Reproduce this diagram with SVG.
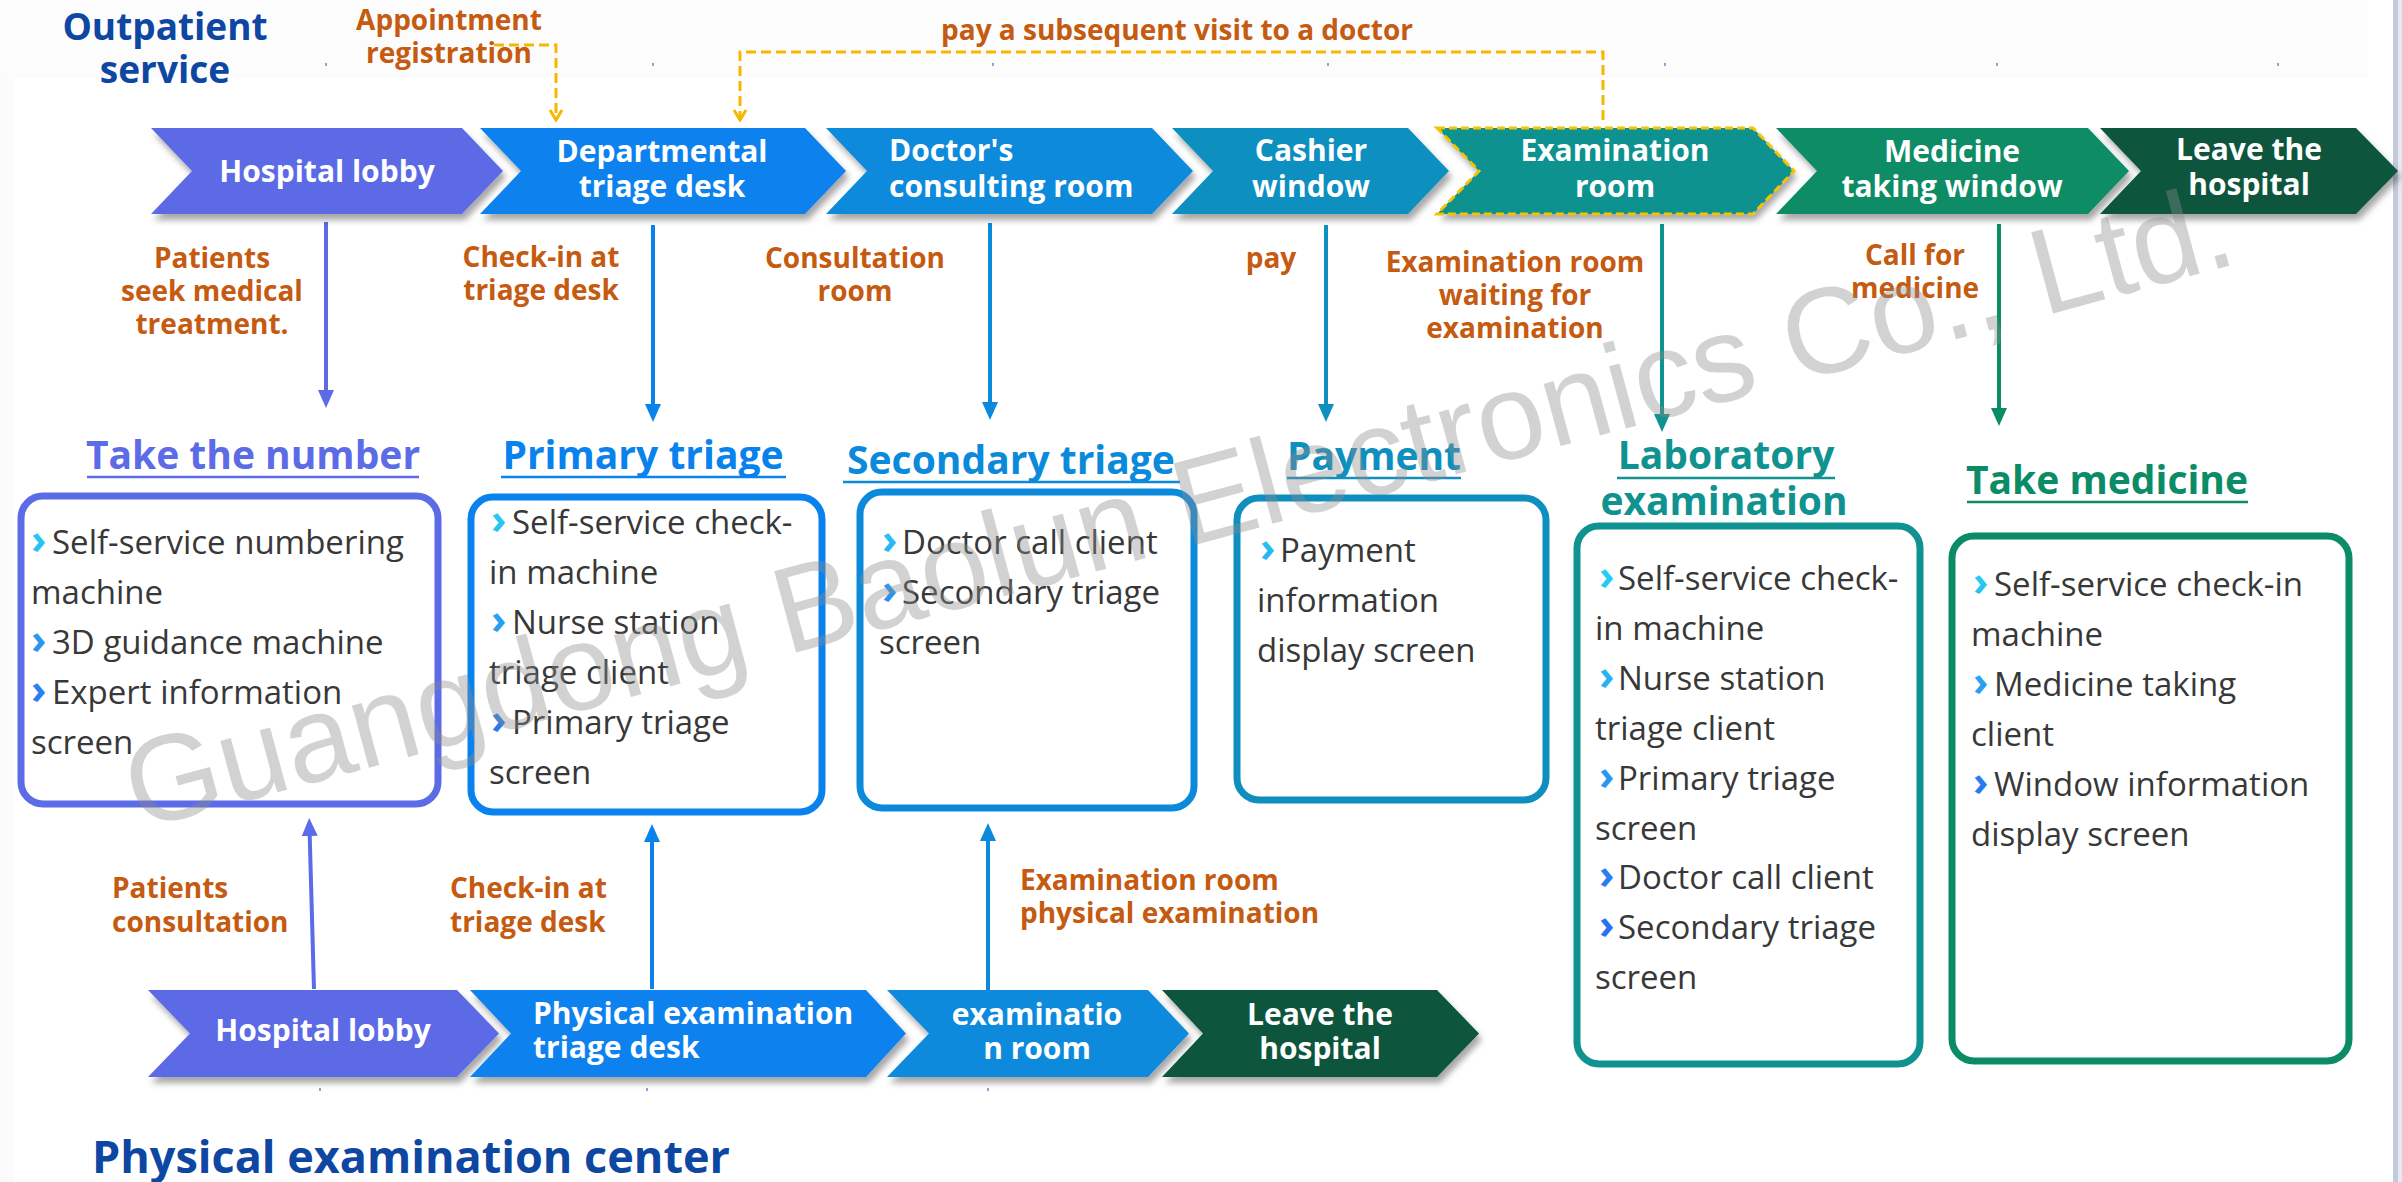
<svg xmlns="http://www.w3.org/2000/svg" width="2402" height="1182" viewBox="0 0 2402 1182">
<defs>
<style>
text{font-family:"Open Sans","Noto Sans","Liberation Sans",sans-serif}
.ct{font-weight:700;font-size:30px;fill:#fff;text-anchor:middle}
.cl{font-weight:700;font-size:30px;fill:#fff}
.lb{font-weight:700;font-size:28px;fill:#C55A11;text-anchor:middle}
.ls{font-weight:700;font-size:28px;fill:#C55A11}
.hd{font-weight:700;font-size:39px;text-anchor:middle}
.bx{font-size:33px;fill:#383838}
.bl{font-size:42px;font-weight:700;fill:url(#bulg)}
.ti{font-weight:700;fill:#0D47A1}
.box{fill:none;stroke-width:7}
.ul{stroke-width:2.5}
.arr{fill:none;stroke-width:4}
.dash{fill:none;stroke:#F5B800;stroke-width:3;stroke-dasharray:10 5}
.chev{filter:url(#sh)}
.dot{fill:#7FA8D8}
.wm{font-family:"Liberation Sans",Arial,sans-serif;font-size:122px;fill:#8C8C8C;opacity:0.38}
</style>
<linearGradient id="bulg" x1="0" y1="0" x2="0" y2="1">
<stop offset="0" stop-color="#27D3F2"/>
<stop offset="1" stop-color="#2B5FF0"/>
</linearGradient>
<filter id="sh" x="-5%" y="-20%" width="115%" height="150%">
<feDropShadow dx="3" dy="6" stdDeviation="3" flood-color="#000" flood-opacity="0.35"/>
</filter>
<marker id="ah1" viewBox="0 0 18 16" refX="4" refY="8" markerWidth="18" markerHeight="16" markerUnits="userSpaceOnUse" orient="auto"><path d="M0,0 L18,8 L0,16 Z" fill="#5C6BE6"/></marker>
<marker id="ah2" viewBox="0 0 18 16" refX="4" refY="8" markerWidth="18" markerHeight="16" markerUnits="userSpaceOnUse" orient="auto"><path d="M0,0 L18,8 L0,16 Z" fill="#0A82EE"/></marker>
<marker id="ah3" viewBox="0 0 18 16" refX="4" refY="8" markerWidth="18" markerHeight="16" markerUnits="userSpaceOnUse" orient="auto"><path d="M0,0 L18,8 L0,16 Z" fill="#0B8ADC"/></marker>
<marker id="ah4" viewBox="0 0 18 16" refX="4" refY="8" markerWidth="18" markerHeight="16" markerUnits="userSpaceOnUse" orient="auto"><path d="M0,0 L18,8 L0,16 Z" fill="#0E8FC0"/></marker>
<marker id="ah5" viewBox="0 0 18 16" refX="4" refY="8" markerWidth="18" markerHeight="16" markerUnits="userSpaceOnUse" orient="auto"><path d="M0,0 L18,8 L0,16 Z" fill="#0F9290"/></marker>
<marker id="ah6" viewBox="0 0 18 16" refX="4" refY="8" markerWidth="18" markerHeight="16" markerUnits="userSpaceOnUse" orient="auto"><path d="M0,0 L18,8 L0,16 Z" fill="#0B8C66"/></marker>
<marker id="ahy" viewBox="-2 -2 14 16" refX="10" refY="6" markerWidth="14" markerHeight="16" markerUnits="userSpaceOnUse" orient="auto"><path d="M0,0 L10,6 L0,12" fill="none" stroke="#F5B800" stroke-width="3"/></marker>
</defs>

<rect x="0" y="0" width="2402" height="1182" fill="#fff"/>
<rect x="0" y="0" width="2368" height="78" fill="#FCFCFD"/>
<rect x="0" y="78" width="14" height="1104" fill="#FBFBFC"/>
<rect x="2393" y="0" width="5" height="1182" fill="#C3CADC"/>
<rect x="2398" y="0" width="4" height="1182" fill="#E6E9F1"/>

<g id="dots">
<rect class="dot" x="325" y="63" width="2" height="3"/>
<rect class="dot" x="652" y="63" width="2" height="3"/>
<rect class="dot" x="992" y="63" width="2" height="3"/>
<rect class="dot" x="1327" y="63" width="2" height="3"/>
<rect class="dot" x="1664" y="63" width="2" height="3"/>
<rect class="dot" x="1996" y="63" width="2" height="3"/>
<rect class="dot" x="2277" y="63" width="2" height="3"/>
<rect class="dot" x="319" y="1088" width="2" height="3"/>
<rect class="dot" x="646" y="1088" width="2" height="3"/>
<rect class="dot" x="987" y="1088" width="2" height="3"/>
</g>

<g id="title-outpatient">
<text class="ti" font-size="37" text-anchor="middle"><tspan x="165" y="40">Outpatient</tspan><tspan x="165" y="83">service</tspan></text>
</g>
<g id="title-physical">
<text class="ti" font-size="45" x="92" y="1173">Physical examination center</text>
</g>

<g id="connectors">
<path class="dash" d="M494,45 H556 V120" marker-end="url(#ahy)"/>
<path class="dash" d="M1603,120 V52 H740 V120" marker-end="url(#ahy)"/>
<path class="arr" stroke="#5C6BE6" d="M326,222 V394" marker-end="url(#ah1)"/>
<path class="arr" stroke="#0A82EE" d="M653,225 V408" marker-end="url(#ah2)"/>
<path class="arr" stroke="#0B8ADC" d="M990,223 V406" marker-end="url(#ah3)"/>
<path class="arr" stroke="#0E8FC0" d="M1326,225 V408" marker-end="url(#ah4)"/>
<path class="arr" stroke="#0F9290" d="M1662,224 V418" marker-end="url(#ah5)"/>
<path class="arr" stroke="#0B8C66" d="M1999,224 V412" marker-end="url(#ah6)"/>
<path class="arr" stroke="#5C6BE6" d="M314,989 L309.6,832" marker-end="url(#ah1)"/>
<path class="arr" stroke="#0A82EE" d="M652,989 V838" marker-end="url(#ah2)"/>
<path class="arr" stroke="#0B8ADC" d="M988,990 V837" marker-end="url(#ah3)"/>
</g>

<g id="labels">
<text class="lb"><tspan x="449" y="30">Appointment</tspan><tspan x="449" y="63">registration</tspan></text>
<text class="lb" x="1177" y="40">pay a subsequent visit to a doctor</text>
<text class="lb"><tspan x="212" y="268">Patients</tspan><tspan x="212" y="301">seek medical</tspan><tspan x="212" y="334">treatment.</tspan></text>
<text class="lb"><tspan x="541" y="267">Check-in at</tspan><tspan x="541" y="300">triage desk</tspan></text>
<text class="lb"><tspan x="855" y="268">Consultation</tspan><tspan x="855" y="301">room</tspan></text>
<text class="lb" x="1271" y="268">pay</text>
<text class="lb"><tspan x="1515" y="272">Examination room</tspan><tspan x="1515" y="305">waiting for</tspan><tspan x="1515" y="338">examination</tspan></text>
<text class="lb"><tspan x="1915" y="265">Call for</tspan><tspan x="1915" y="298">medicine</tspan></text>
<text class="ls"><tspan x="112" y="898">Patients</tspan><tspan x="112" y="932">consultation</tspan></text>
<text class="ls"><tspan x="450" y="898">Check-in at</tspan><tspan x="450" y="932">triage desk</tspan></text>
<text class="ls"><tspan x="1020" y="890">Examination room</tspan><tspan x="1020" y="923">physical examination</tspan></text>
</g>

<g id="n-hospital-lobby">
<path class="chev" fill="#5C6BE6" d="M151,128 H462 L503,171 L462,214 H151 L192,171 Z"/>
<text class="ct" x="327" y="182">Hospital lobby</text>
</g>
<g id="n-dept-triage">
<path class="chev" fill="#0A82EE" d="M480,128 H805 L846,171 L805,214 H480 L521,171 Z"/>
<text class="ct"><tspan x="662" y="162">Departmental</tspan><tspan x="662" y="197">triage desk</tspan></text>
</g>
<g id="n-doctor">
<path class="chev" fill="#0B8ADC" d="M826,128 H1152 L1193,171 L1152,214 H826 L867,171 Z"/>
<text class="cl"><tspan x="889" y="161">Doctor's</tspan><tspan x="889" y="197">consulting room</tspan></text>
</g>
<g id="n-cashier">
<path class="chev" fill="#0E8FC0" d="M1172,128 H1408 L1449,171 L1408,214 H1172 L1213,171 Z"/>
<text class="ct"><tspan x="1311" y="161">Cashier</tspan><tspan x="1311" y="197">window</tspan></text>
</g>
<g id="n-exam-room">
<path class="chev" fill="#0F9290" d="M1437,128 H1753 L1794,171 L1753,214 H1437 L1479,171 Z"/>
<path fill="none" stroke="#F5C400" stroke-width="3" stroke-dasharray="8 4" d="M1437,128 H1753 L1794,171 L1753,214 H1437 L1479,171 Z"/>
<text class="ct"><tspan x="1615" y="161">Examination</tspan><tspan x="1615" y="197">room</tspan></text>
</g>
<g id="n-medicine-window">
<path class="chev" fill="#0B8C66" d="M1776,128 H2088 L2129,171 L2088,214 H1776 L1817,171 Z"/>
<text class="ct"><tspan x="1952" y="162">Medicine</tspan><tspan x="1952" y="197">taking window</tspan></text>
</g>
<g id="n-leave">
<path class="chev" fill="#09573C" d="M2100,128 H2356 L2398,171 L2356,214 H2100 L2141,171 Z"/>
<text class="ct"><tspan x="2249" y="160">Leave the</tspan><tspan x="2249" y="195">hospital</tspan></text>
</g>

<g id="n-pe-lobby">
<path class="chev" fill="#5C6BE6" d="M148,990 H457 L499,1033.5 L457,1077 H148 L190,1033.5 Z"/>
<text class="ct" x="323" y="1041">Hospital lobby</text>
</g>
<g id="n-pe-triage">
<path class="chev" fill="#0A82EE" d="M470,990 H866 L906,1033.5 L866,1077 H470 L511,1033.5 Z"/>
<text class="cl"><tspan x="533" y="1024">Physical examination</tspan><tspan x="533" y="1058">triage desk</tspan></text>
</g>
<g id="n-pe-room">
<path class="chev" fill="#0B8ADC" d="M887,990 H1148 L1189,1033.5 L1148,1077 H887 L929,1033.5 Z"/>
<text class="ct"><tspan x="1037" y="1025">examinatio</tspan><tspan x="1037" y="1059">n room</tspan></text>
</g>
<g id="n-pe-leave">
<path class="chev" fill="#09573C" d="M1162,990 H1437 L1479,1033.5 L1437,1077 H1162 L1203,1033.5 Z"/>
<text class="ct"><tspan x="1320" y="1025">Leave the</tspan><tspan x="1320" y="1059">hospital</tspan></text>
</g>

<g id="n-take-number">
<text class="hd" fill="#5C6BE6" x="253" y="469">Take the number</text>
<line class="ul" stroke="#5C6BE6" x1="87" y1="477" x2="419" y2="477"/>
<rect class="box" stroke="#5C6BE6" x="21" y="496" width="417" height="308" rx="22"/>
<text class="bx"><tspan class="bl" x="31" y="554">›</tspan><tspan x="52" y="554">Self-service numbering</tspan><tspan x="31" y="604">machine</tspan><tspan class="bl" x="31" y="654">›</tspan><tspan x="52" y="654">3D guidance machine</tspan><tspan class="bl" x="31" y="704">›</tspan><tspan x="52" y="704">Expert information</tspan><tspan x="31" y="754">screen</tspan></text>
</g>

<g id="n-primary-triage">
<text class="hd" fill="#0A82EE" x="643" y="469">Primary triage</text>
<line class="ul" stroke="#0A82EE" x1="501" y1="477" x2="786" y2="477"/>
<rect class="box" stroke="#0A82EE" x="471" y="497" width="351" height="315" rx="22"/>
<text class="bx"><tspan class="bl" x="491" y="534">›</tspan><tspan x="512" y="534">Self-service check-</tspan><tspan x="489" y="584">in machine</tspan><tspan class="bl" x="491" y="634">›</tspan><tspan x="512" y="634">Nurse station</tspan><tspan x="489" y="684">triage client</tspan><tspan class="bl" x="491" y="734">›</tspan><tspan x="512" y="734">Primary triage</tspan><tspan x="489" y="784">screen</tspan></text>
</g>

<g id="n-secondary-triage">
<text class="hd" fill="#0B8ADC" x="1011" y="474">Secondary triage</text>
<line class="ul" stroke="#0B8ADC" x1="843" y1="482" x2="1180" y2="482"/>
<rect class="box" stroke="#0B8ADC" x="860" y="492" width="334" height="316" rx="22"/>
<text class="bx"><tspan class="bl" x="882" y="554">›</tspan><tspan x="902" y="554">Doctor call client</tspan><tspan class="bl" x="882" y="604">›</tspan><tspan x="902" y="604">Secondary triage</tspan><tspan x="879" y="654">screen</tspan></text>
</g>

<g id="n-payment">
<text class="hd" fill="#0E8FC0" x="1374" y="470">Payment</text>
<line class="ul" stroke="#0E8FC0" x1="1287" y1="478" x2="1461" y2="478"/>
<rect class="box" stroke="#0E8FC0" x="1237" y="498" width="309" height="302" rx="22"/>
<text class="bx"><tspan class="bl" x="1260" y="562">›</tspan><tspan x="1280" y="562">Payment</tspan><tspan x="1257" y="612">information</tspan><tspan x="1257" y="662">display screen</tspan></text>
</g>

<g id="n-lab-exam">
<text class="hd" fill="#0F9290"><tspan x="1726" y="469">Laboratory</tspan><tspan x="1724" y="515">examination</tspan></text>
<line class="ul" stroke="#0F9290" x1="1617" y1="478" x2="1835" y2="478"/>
<rect class="box" stroke="#0F9290" x="1577" y="526" width="343" height="538" rx="22"/>
<text class="bx"><tspan class="bl" x="1599" y="590">›</tspan><tspan x="1618" y="590">Self-service check-</tspan><tspan x="1595" y="640">in machine</tspan><tspan class="bl" x="1599" y="690">›</tspan><tspan x="1618" y="690">Nurse station</tspan><tspan x="1595" y="740">triage client</tspan><tspan class="bl" x="1599" y="790">›</tspan><tspan x="1618" y="790">Primary triage</tspan><tspan x="1595" y="840">screen</tspan><tspan class="bl" x="1599" y="889">›</tspan><tspan x="1618" y="889">Doctor call client</tspan><tspan class="bl" x="1599" y="939">›</tspan><tspan x="1618" y="939">Secondary triage</tspan><tspan x="1595" y="989">screen</tspan></text>
</g>

<g id="n-take-medicine">
<text class="hd" fill="#0B8C66" x="2107" y="494">Take medicine</text>
<line class="ul" stroke="#0B8C66" x1="1967" y1="502" x2="2248" y2="502"/>
<rect class="box" stroke="#0B8C66" x="1952" y="536" width="397" height="525" rx="22"/>
<text class="bx"><tspan class="bl" x="1973" y="596">›</tspan><tspan x="1994" y="596">Self-service check-in</tspan><tspan x="1971" y="646">machine</tspan><tspan class="bl" x="1973" y="696">›</tspan><tspan x="1994" y="696">Medicine taking</tspan><tspan x="1971" y="746">client</tspan><tspan class="bl" x="1973" y="796">›</tspan><tspan x="1994" y="796">Window information</tspan><tspan x="1971" y="846">display screen</tspan></text>
</g>

<g id="watermark">
<text class="wm" transform="translate(138,830) rotate(-15.1)">Guangdong Baolun Electronics Co., Ltd.</text>
</g>
</svg>
